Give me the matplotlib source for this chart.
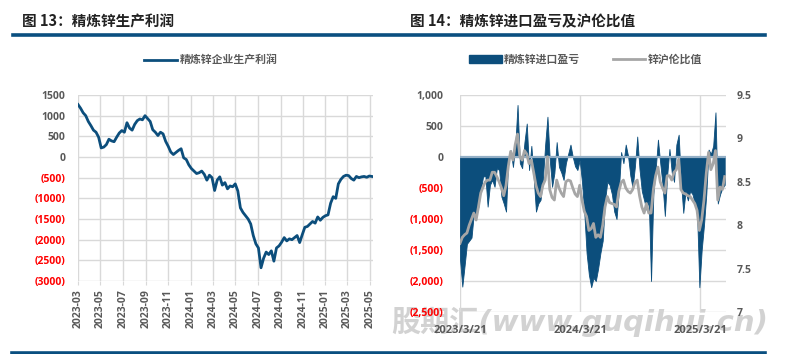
import matplotlib.pyplot as plt
import matplotlib.dates as mdates
import numpy as np
import pandas as pd
from matplotlib.lines import Line2D
from matplotlib.patches import Patch

plt.rcParams['font.family'] = ['Open Sans', 'Noto Sans CJK SC', 'DejaVu Sans']

BLUE = '#0C4E7C'
GREY = '#A6A6A6'
GRID = '#D9D9D9'
TXT = '#595959'
RED = '#FF0000'

# 图13: 精炼锌企业生产利润 (weekly, from 2023-03-01)
profit_start = '2023-03-01'
profit = [1270, 1180, 1070, 1000, 860, 760, 650, 600, 480, 220,
          240, 300, 430, 390, 370, 480, 580, 640, 600, 830,
          700, 650, 790, 880, 920, 900, 1000, 930, 860, 660,
          600, 520, 600, 560, 380, 260, 120, 60, 110, 160,
          200, -20, -60, -190, -280, -340, -400, -380, -340, -420,
          -560, -440, -500, -810, -560, -480, -680, -620, -770, -700,
          -720, -650, -820, -1230, -1340, -1420, -1500, -1620, -1900, -2100,
          -2200, -2680, -2450, -2300, -2360, -2270, -2520, -2200, -2150, -2060,
          -1950, -2030, -1980, -2000, -1950, -1900, -2070, -1880, -1700, -1680,
          -1620, -1560, -1600, -1450, -1530, -1460, -1420, -1400, -1120, -960,
          -1000, -650, -540, -470, -440, -450, -520, -560, -470, -500,
          -480, -470, -490, -460, -470]
profit_ticks = ['2023-03', '2023-05', '2023-07', '2023-09', '2023-11', '2024-01', '2024-03',
                '2024-05', '2024-07', '2024-09', '2024-11', '2025-01', '2025-03', '2025-05']

# 图14: 精炼锌进口盈亏 and 锌沪伦比值 (weekly, from 2023-03-21)
import_start = '2023-03-21'
import_pl = [-1650, -2090, -1750, -1400, -1350, -1300, -910, -960, -800, -530,
             -320, -300, -800, -450, -370, -480, -180, -210, -640, -750,
             -880, 0, 110, -160, 180, 840, -100, -180, 240, 540,
             -210, 180, -320, -880, -750, -690, -370, 200, 650, -50,
             -480, -260, 240, -160, -250, -370, -100, 50, 200, 0,
             -150, -210, -50, -400, -900, -1550, -1900, -2100, -1950, -2000,
             -1800, -1550, -1350, -700, -400, -450, -600, -880, -1000, -550,
             80, -100, 200, 20, -300, -500, -150, 330, -200, -550,
             -700, -850, -700, -2000, -600, -200, 280, -100, -450, -950,
             -300, 130, -250, -400, 200, 360, -400, -900, -550, -700,
             -550, -600, -750, -900, -2100, -1500, -1100, -600, 120, 50,
             180, 720, -750, -600, -500, -450]
ratio = [7.79, 7.86, 7.89, 7.91, 8.00, 8.07, 8.14, 8.06, 8.21, 8.37,
         8.44, 8.50, 8.52, 8.52, 8.61, 8.61, 8.56, 8.50, 8.43, 8.34,
         8.46, 8.68, 8.85, 8.75, 8.93, 9.05, 8.79, 8.75, 8.86, 8.82,
         8.71, 8.75, 8.61, 8.46, 8.37, 8.33, 8.46, 8.52, 8.79, 8.41,
         8.32, 8.29, 8.52, 8.43, 8.37, 8.33, 8.50, 8.52, 8.51, 8.43,
         8.36, 8.33, 8.46, 8.29, 8.16, 8.10, 7.94, 7.96, 8.02, 7.86,
         7.89, 7.86, 8.00, 8.21, 8.33, 8.26, 8.25, 8.24, 8.21, 8.39,
         8.49, 8.52, 8.43, 8.39, 8.37, 8.41, 8.49, 8.52, 8.34, 8.21,
         8.14, 8.25, 8.14, 8.14, 8.41, 8.57, 8.67, 8.50, 8.43, 8.37,
         8.57, 8.57, 8.52, 8.61, 8.64, 8.76, 8.41, 8.37, 8.36, 8.34,
         8.33, 8.29, 8.25, 8.17, 7.94, 8.06, 8.29, 8.60, 8.84, 8.64,
         8.71, 8.86, 8.29, 8.44, 8.41, 8.56]
import_ticks = ['2023-03-21', '2024-03-21', '2025-03-21']
import_ticklabels = ['2023/3/21', '2024/3/21', '2025/3/21']


def paren(v, comma):
    s = f'{abs(v):,.0f}' if comma else f'{abs(v):.0f}'
    return f'({s})' if v < 0 else s


def color_labels(ax, ticks):
    for lab, v in zip(ax.get_yticklabels(), ticks):
        lab.set_color(RED if v < 0 else TXT)
        lab.set_fontweight('bold')


fig = plt.figure(figsize=(7.87, 3.54), dpi=100)

# watermark, drawn under everything
fig.text(580 / 787, 1 - 322 / 354, '股期汇(www.guqihui.cn)', fontsize=21, fontweight='bold',
         style='italic', family=['DejaVu Sans', 'Noto Sans CJK SC'], color='#C4C4C4', alpha=0.75,
         ha='center', va='center', zorder=-5)

# ---- left chart
ax1 = fig.add_axes([0.0991, 0.2062, 0.3748, 0.5254])
d1 = pd.date_range(profit_start, periods=len(profit), freq='7D')
ax1.plot(d1, profit, color=BLUE, lw=2, label='精炼锌企业生产利润')
ax1.set_ylim(-3000, 1500)
ax1.set_xlim(pd.Timestamp('2023-03-01'), pd.Timestamp('2025-05-10'))
yt1 = list(range(-3000, 1501, 500))
ax1.set_yticks(yt1)
ax1.set_yticklabels([paren(v, False) for v in yt1], fontsize=7.5)
color_labels(ax1, yt1)
ax1.set_xticks([pd.Timestamp(t + '-01') for t in profit_ticks])
ax1.set_xticklabels(profit_ticks, rotation=90, fontsize=7.5, color=TXT, fontweight='bold')
ax1.grid(True, color=GRID, lw=1)
ax1.tick_params(axis='y', length=0, pad=9)
ax1.tick_params(axis='x', length=3, color=GRID, pad=3)
for s in ax1.spines.values():
    s.set_visible(False)
ax1.legend(loc='lower center', bbox_to_anchor=(0.268, 0.785), bbox_transform=fig.transFigure,
           frameon=False, handlelength=3, handletextpad=0.3,
           labelcolor=TXT, prop={'weight': 'bold', 'size': 7.8})

# ---- right chart
ax2 = fig.add_axes([0.5845, 0.1186, 0.338, 0.613])
ax2.patch.set_visible(False)
d2 = pd.date_range(import_start, periods=len(import_pl), freq='7D')
ax2.fill_between(d2, import_pl, 0, color=BLUE, lw=0.6, edgecolor=BLUE)
ax2.axhline(0, color='#93AFC6', lw=1.6, zorder=3)
ax2.set_ylim(-2500, 1000)
ax2.set_xlim(pd.Timestamp('2023-03-21'), pd.Timestamp('2025-06-07'))
yt2 = list(range(-2500, 1001, 500))
ax2.set_yticks(yt2)
ax2.set_yticklabels([paren(v, True) for v in yt2], fontsize=7.5)
color_labels(ax2, yt2)
ax2.set_xticks([pd.Timestamp(t) for t in import_ticks])
ax2.set_xticklabels(import_ticklabels, fontsize=8, color=TXT, fontweight='bold')
ax2.grid(True, color=GRID, lw=1)
ax2.set_axisbelow(True)
ax2.tick_params(axis='y', length=0, pad=12)
ax2.tick_params(axis='x', length=0, pad=9)
for s in ax2.spines.values():
    s.set_visible(False)

ax3 = ax2.twinx()
ax3.patch.set_visible(False)
ax3.plot(d2, ratio, color=GREY, lw=2)
ax3.set_ylim(7, 9.5)
yt3 = [7, 7.5, 8, 8.5, 9, 9.5]
ax3.set_yticks(yt3)
ax3.set_yticklabels([f'{v:g}' for v in yt3], fontsize=7.5, color=TXT, fontweight='bold')
ax3.tick_params(axis='y', length=0, pad=8)
for s in ax3.spines.values():
    s.set_visible(False)

handles = [Patch(color=BLUE, label='精炼锌进口盈亏'), Line2D([], [], color=GREY, lw=2, label='锌沪伦比值')]
fig.legend(handles=handles, loc='center', bbox_to_anchor=(0.744, 0.830), frameon=False,
           ncol=2, handlelength=3, handleheight=0.7, handletextpad=0.2, columnspacing=3,
           labelcolor=TXT, prop={'weight': 'bold', 'size': 7.8})

# ---- titles and rules
title_font = ['Noto Sans CJK SC', 'DejaVu Sans']
fig.text(22 / 787, 1 - 21 / 354, '图 13：精炼锌生产利润', fontsize=10.5, fontweight='bold',
         family=title_font, va='center', ha='left', color='#222222')
fig.text(410 / 787, 1 - 21 / 354, '图 14：精炼锌进口盈亏及沪伦比值', fontsize=10.5, fontweight='bold',
         family=title_font, va='center', ha='left', color='#222222')
fig.add_artist(Line2D([13 / 787, 765 / 787], [1 - 34.8 / 354] * 2, color='#0A4F80', lw=2.6))
fig.add_artist(Line2D([12 / 787, 765 / 787], [1 - 352.8 / 354] * 2, color='#0A4F80', lw=2.6))

fig.savefig('out.png', dpi=100)
